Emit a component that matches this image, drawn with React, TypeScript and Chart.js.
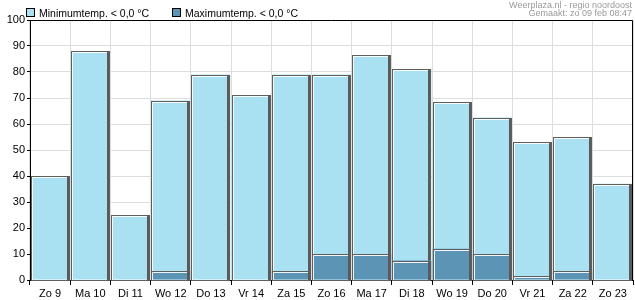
import React, { useEffect, useRef } from "react";
import { Chart, registerables } from "chart.js";

Chart.register(...registerables);

const categories = ["Zo 9", "Ma 10", "Di 11", "Wo 12", "Do 13", "Vr 14", "Za 15", "Zo 16", "Ma 17", "Di 18", "Wo 19", "Do 20", "Vr 21", "Za 22", "Zo 23"];
const minTempValues = [40, 88, 25, 69, 79, 71, 79, 79, 86.5, 81, 68.5, 62.5, 53, 55, 37];
const maxTempValues = [0, 0, 0, 3.5, 0, 0, 3.5, 10, 10, 7.5, 12, 10, 1.5, 3.5, 0];
const seriesNames = ["Minimumtemp. < 0,0 °C", "Maximumtemp. < 0,0 °C"];
const seriesColors = ["#a9e1f2", "#5b94b5"];
const titleLines = ["Weerplaza.nl - regio noordoost", "Gemaakt: zo 09 feb 08:47"];
const yTicks = [0, 10, 20, 30, 40, 50, 60, 70, 80, 90, 100];

const FONT = "'Liberation Sans', Arial, sans-serif";

const bevelPlugin = {
  id: "bevel",
  afterDatasetDraw(chart: any, args: any) {
    const ctx = chart.ctx;
    const meta = args.meta;
    ctx.save();
    meta.data.forEach((el: any) => {
      const { x, y, base, width } = el.getProps(["x", "y", "base", "width"], true);
      if (Math.abs(base - y) < 0.5) return;
      const l = Math.round(x - width / 2);
      const r = Math.round(x + width / 2);
      const t = Math.round(Math.min(y, base));
      const b = Math.round(Math.max(y, base));
      ctx.strokeStyle = "#5e5e5e";
      ctx.lineWidth = 1;
      ctx.strokeRect(l + 0.5, t + 0.5, r - l - 1, b - t);
      ctx.strokeStyle = "rgba(255,255,255,0.9)";
      ctx.beginPath();
      ctx.moveTo(l + 1.5, b);
      ctx.lineTo(l + 1.5, t + 1.5);
      ctx.lineTo(r - 3, t + 1.5);
      ctx.stroke();
      ctx.fillStyle = "#5a5a5a";
      ctx.fillRect(r - 3, t + 1, 2, b - t - 1);
    });
    ctx.restore();
  },
};

const framePlugin = {
  id: "frameAndText",
  afterDraw(chart: any) {
    const ctx = chart.ctx;
    const a = chart.chartArea;
    ctx.save();
    ctx.strokeStyle = "#000";
    ctx.lineWidth = 1;
    ctx.beginPath();
    ctx.moveTo(a.left + 0.5, a.bottom + 0.5);
    ctx.lineTo(a.left + 0.5, a.top + 0.5);
    ctx.lineTo(a.right - 0.5, a.top + 0.5);
    ctx.lineTo(a.right - 0.5, a.bottom + 0.5);
    ctx.stroke();
    // title text top-right
    ctx.fillStyle = "#9a9a9a";
    ctx.font = `9px ${FONT}`;
    ctx.textAlign = "right";
    ctx.textBaseline = "alphabetic";
    ctx.fillText(titleLines[0], chart.width - 3, 8);
    ctx.fillText(titleLines[1], chart.width - 3, 16);
    // legend
    ctx.textAlign = "left";
    ctx.font = `10.5px ${FONT}`;
    const xs = [26, 172];
    seriesNames.forEach((n, i) => {
      ctx.fillStyle = seriesColors[i];
      ctx.fillRect(xs[i] + 0.5, 8.5, 8, 8);
      ctx.strokeStyle = "#000";
      ctx.strokeRect(xs[i] + 0.5, 8.5, 8, 8);
      ctx.fillStyle = "#000";
      ctx.fillText(n, xs[i] + 13, 17);
    });
    ctx.restore();
  },
};

export default function App() {
  const ref = useRef<HTMLCanvasElement>(null);
  useEffect(() => {
    document.body.style.margin = "0";
    const chart = new Chart(ref.current!, {
      type: "bar",
      data: {
        labels: categories,
        datasets: [
          {
            label: seriesNames[0],
            data: minTempValues,
            backgroundColor: seriesColors[0],
            borderWidth: 0,
            grouped: false,
            order: 1,
            categoryPercentage: 1,
            barPercentage: 0.97,
          } as any,
          {
            label: seriesNames[1],
            data: maxTempValues,
            backgroundColor: seriesColors[1],
            borderWidth: 0,
            grouped: false,
            order: 0,
            categoryPercentage: 1,
            barPercentage: 0.97,
          } as any,
        ],
      },
      options: {
        animation: false,
        responsive: false,
        devicePixelRatio: 1,
        layout: { padding: { top: 20, right: 2, left: 0, bottom: 0 } },
        plugins: { legend: { display: false }, tooltip: { enabled: false } },
        scales: {
          x: {
            grid: { offset: true, color: "#dddddd", tickColor: "#000", tickLength: 5, drawTicks: true },
            border: { color: "#000" },
            ticks: { color: "#000", font: { family: FONT, size: 11 }, padding: 2, maxRotation: 0, autoSkip: false },
            afterFit(s: any) { s.height = 20; },
          },
          y: {
            min: 0,
            max: 100,
            afterBuildTicks(s: any) { s.ticks = yTicks.map((v) => ({ value: v })); },
            grid: { color: "#dddddd", tickColor: "#000", tickLength: 3 },
            border: { color: "#000" },
            ticks: { color: "#000", font: { family: FONT, size: 11 }, padding: 2 },
            afterFit(s: any) { s.width = 30; },
          },
        },
      },
      plugins: [bevelPlugin, framePlugin],
    });
    return () => chart.destroy();
  }, []);
  return (
    <div style={{ width: 635, height: 300 }}>
      <canvas ref={ref} width={635} height={300} />
    </div>
  );
}
